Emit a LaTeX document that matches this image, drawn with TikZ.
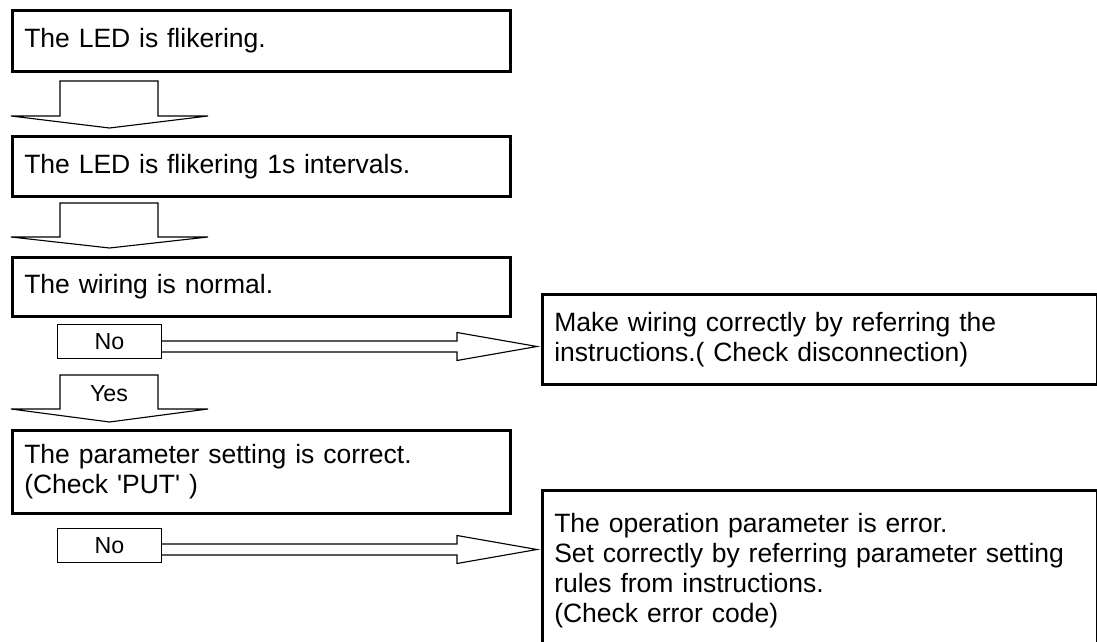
\documentclass[tikz,border=0pt]{standalone}
\usepackage{fontspec}
\setmainfont{Liberation Sans}[Ligatures=TeXOff]
\newcommand{\stepfont}{\fontsize{18.85pt}{21.34pt}\selectfont}
\newcommand{\answerfont}{\fontsize{16.5pt}{19pt}\selectfont}

\begin{document}
\begin{tikzpicture}[
    x=0.025cm, y=-0.025cm,
    stepbox/.style={draw, line width=1.8pt, anchor=north west, align=left, inner xsep=0.3cm, inner ysep=0pt, text width=#1, font=\stepfont},
    answer/.style={draw, line width=0.8pt, fill=white, anchor=north west, inner sep=0pt, minimum width=2.6cm, minimum height=0.85cm, font=\answerfont},
    blockarrow/.style={draw, line width=0.8pt, fill=white, line join=miter},
]
    \useasboundingbox (0,0) rectangle (1097,642);

    % Check steps
    \node[stepbox=11.85cm, minimum height=1.525cm] (led) at (11,9) {The LED is flikering.};
    \node[stepbox=11.85cm, minimum height=1.5cm] (interval) at (11,135) {The LED is flikering 1s intervals.};
    \node[stepbox=11.85cm, minimum height=1.475cm] (wiring) at (11,256) {The wiring is normal.};
    \node[stepbox=11.85cm, minimum height=2.075cm] (param) at (11,429) {The parameter setting is correct.\\(Check 'PUT' )};

    % Remedies
    \node[stepbox=13.28cm, minimum height=2.25cm] (fixwiring) at (541,293) {Make wiring correctly by referring the\\instructions.( Check disconnection)};
    \node[stepbox=13.28cm, minimum height=4cm] (fixparam) at (541,489) {The operation parameter is error.\\Set correctly by referring parameter setting\\rules from instructions.\\(Check error code)};

    % Downward arrows
    \foreach \ytop/\ywing/\ytip in {81/116/128, 203/237/248, 375/409/422}
        \draw[blockarrow] (60,\ytop) -- (158,\ytop) -- (158,\ywing) -- (208,\ywing) -- (109.5,\ytip) -- (11,\ywing) -- (60,\ywing) -- cycle;
    \node[font=\answerfont] (yes) at (109,394) {Yes};

    % Arrows to the remedies
    \foreach \cy in {346.5, 549.5}
        \draw[blockarrow] (161,\cy-5.5) -- (457,\cy-5.5) -- (457,\cy-14) -- (537,\cy) -- (457,\cy+14) -- (457,\cy+5.5) -- (161,\cy+5.5);
    \node[answer] (nowiring) at (57,324) {No};
    \node[answer] (noparam) at (57,528) {No};
\end{tikzpicture}
\end{document}
